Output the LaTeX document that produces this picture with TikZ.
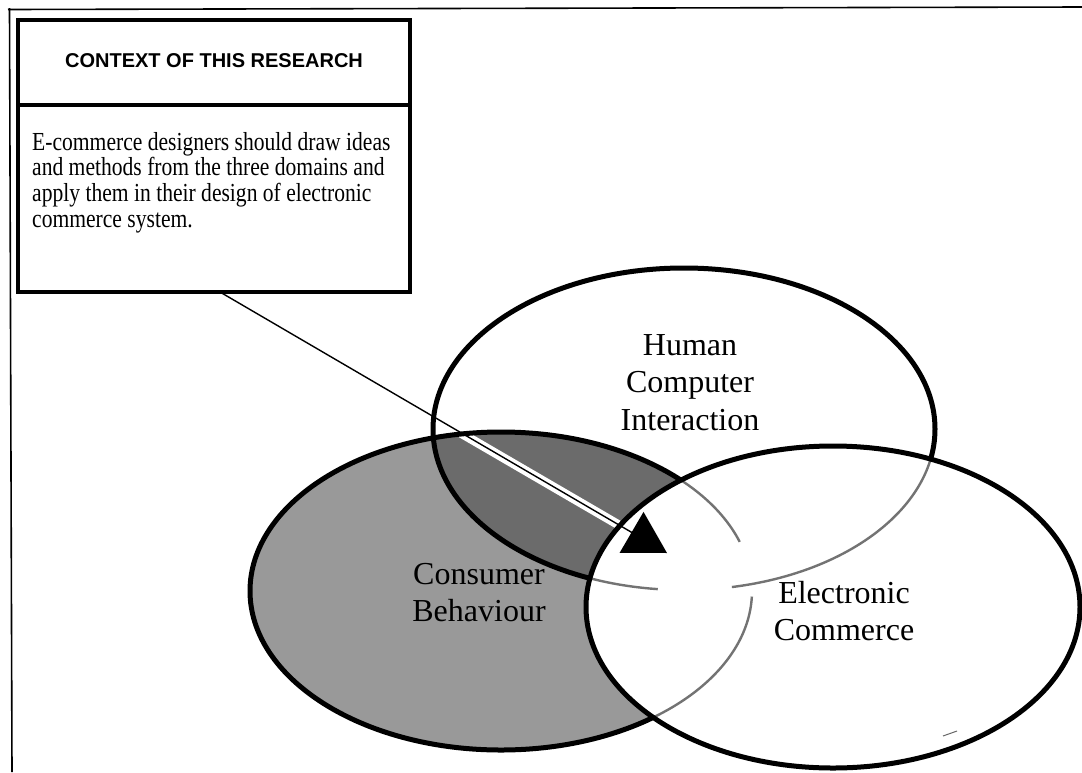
\documentclass[tikz,border=0pt]{standalone}
\usepackage{fontspec}
\setmainfont{Liberation Serif}
\newfontfamily\headfont{Liberation Sans}
\newfontfamily\narrowserif[FakeStretch=0.83]{Liberation Serif}
\usetikzlibrary{arrows.meta,calc}

\begin{document}
\begin{tikzpicture}[x=1pt,y=-1pt,
  frameline/.style={line width=1.6pt},
  panel/.style={draw, line width=3.5pt, inner sep=0pt, outer sep=0pt},
  headtext/.style={font=\headfont\bfseries\fontsize{20}{24}\selectfont, inner sep=0pt},
  bodytext/.style={font=\narrowserif\fontsize{26}{25.7}\selectfont, align=left, inner sep=0pt},
  setlabel/.style={font=\fontsize{32}{37.5}\selectfont, align=center, inner sep=0pt},
  setline/.style={line width=5pt},
  faintline/.style={line width=2.4pt, draw=black!55},
  cbshade/.style={fill=black!40},
  overlapshade/.style={fill=black!58},
  pointer/.style={line width=1.4pt, -{Triangle[length=41pt,width=47pt]}}]

\useasboundingbox (0,0) rectangle (1082,772);
\fill[white] (0,0) rectangle (1082,772);

% ellipse centres
\coordinate (HCIc) at (684,429);
\coordinate (CBc)  at (501,591);
\coordinate (ECc)  at (833,607);

% outer frame: top and left rules only
\draw[frameline] (8,9.5) -- (1082,7);
\draw[frameline] (9.5,8) -- (12,772);

% shading of consumer behaviour and its overlap with HCI
\fill[cbshade] (CBc) ellipse [x radius=251, y radius=159];
\begin{scope}
  \clip (CBc) ellipse [x radius=251, y radius=159];
  \fill[overlapshade] (HCIc) ellipse [x radius=251, y radius=161];
  \draw[white, line width=9pt] (220,293) -- (667,553);
\end{scope}
\draw[setline] (HCIc) ellipse [x radius=251, y radius=161];
\draw[setline] (CBc) ellipse [x radius=251, y radius=159];

% electronic commerce is left blank on top of the other two
\fill[white] (ECc) ellipse [x radius=247, y radius=161];

% faint arcs of the other two sets inside electronic commerce
\begin{scope}
  \clip (ECc) ellipse [x radius=247, y radius=161];
  \draw[faintline] ($(HCIc)+(96:251 and 161)$) arc [start angle=96, end angle=125, x radius=251, y radius=161];
  \draw[faintline] ($(HCIc)+(-10:251 and 161)$) arc [start angle=-10, end angle=79, x radius=251, y radius=161];
  \draw[faintline] ($(CBc)+(-60:251 and 159)$) arc [start angle=-60, end angle=-18, x radius=251, y radius=159];
  \draw[faintline] ($(CBc)+(2:251 and 159)$) arc [start angle=2, end angle=70, x radius=251, y radius=159];
\end{scope}
\draw[setline] (ECc) ellipse [x radius=247, y radius=161];
\draw[line width=1pt, black!60] (943,736) -- (957,731);

% set labels
\node[setlabel, anchor=north] (hci) at (690,334) {Human\\Computer\\Interaction};
\node[setlabel, anchor=north] (cb)  at (479,563) {Consumer\\Behaviour};
\node[setlabel, anchor=north] (ec)  at (844,581) {Electronic\\Commerce};

% context panel
\node[panel, minimum width=392pt, minimum height=85pt, anchor=north west] (ctxhead) at (18,20) {};
\node[panel, minimum width=392pt, minimum height=187pt, anchor=north west] (ctxbody) at (ctxhead.south west) {};
\node[headtext] (ctxtitle) at ($(ctxhead.center)+(0,-2)$) {CONTEXT OF THIS RESEARCH};
\node[bodytext, anchor=north west] (ctxtext) at (32,132)
  {E-commerce designers should draw ideas\\
   and methods from the three domains and\\
   apply them in their design of electronic\\
   commerce system.};

% pointer from the panel into the common area
\coordinate (ctxfoot) at ($(ctxbody.south west)+(202,0)$);
\coordinate (core) at (667,553);
\draw[pointer] (ctxfoot) -- (core);

\end{tikzpicture}
\end{document}
